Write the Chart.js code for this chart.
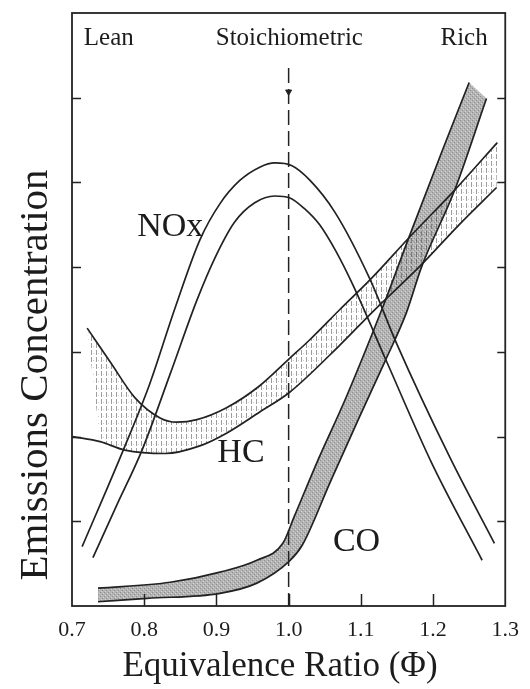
<!DOCTYPE html>
<html>
<head>
<meta charset="utf-8">
<script src="https://cdn.jsdelivr.net/npm/chart.js@4.4.1/dist/chart.umd.min.js"></script>
<style>
  html, body { margin: 0; padding: 0; background: #ffffff; }
  #wrap { width: 530px; height: 689px; position: relative; }
</style>
</head>
<body>
<div id="wrap"><canvas id="chart"></canvas></div>
<script>
// Axis ticks
const xTicks = [0.7, 0.8, 0.9, 1.0, 1.1, 1.2, 1.3];
const yTicks = [1, 2, 3, 4, 5, 6];

// NOx band: two bounding curves (equivalence ratio vs. relative concentration)
const noxUpperPhi  = [0.714, 0.771, 0.808, 0.842, 0.877, 0.905, 0.932, 0.960, 0.981, 1.004, 1.029, 1.064, 1.112, 1.149, 1.223, 1.285];
const noxUpperConc = [0.70, 1.84, 2.63, 3.50, 4.32, 4.75, 5.02, 5.18, 5.23, 5.20, 5.03, 4.65, 3.87, 3.11, 1.76, 0.74];
const noxLowerPhi  = [0.729, 0.762, 0.797, 0.836, 0.873, 0.898, 0.925, 0.953, 0.981, 1.001, 1.022, 1.043, 1.066, 1.089, 1.136, 1.198, 1.268];
const noxLowerConc = [0.57, 1.19, 1.84, 2.74, 3.61, 4.11, 4.53, 4.76, 4.84, 4.82, 4.69, 4.50, 4.18, 3.79, 2.88, 1.69, 0.54];

// HC band
const hcUpperPhi  = [0.721, 0.753, 0.787, 0.822, 0.845, 0.873, 0.914, 0.960, 1.001, 1.029, 1.071, 1.115, 1.167, 1.230, 1.289];
const hcUpperConc = [3.28, 2.88, 2.46, 2.22, 2.17, 2.20, 2.34, 2.60, 2.92, 3.14, 3.50, 3.87, 4.35, 4.91, 5.47];
const hcLowerPhi  = [0.701, 0.739, 0.773, 0.829, 0.877, 0.914, 0.960, 1.001, 1.071, 1.116, 1.184, 1.236, 1.288];
const hcLowerConc = [2.00, 1.94, 1.84, 1.80, 1.89, 2.04, 2.29, 2.52, 3.08, 3.47, 4.03, 4.50, 4.94];

// CO band
const coUpperPhi  = [0.736, 0.836, 0.905, 0.956, 0.992, 1.008, 1.039, 1.080, 1.130, 1.167, 1.213, 1.250];
const coUpperConc = [0.21, 0.28, 0.40, 0.54, 0.74, 1.06, 1.69, 2.47, 3.52, 4.36, 5.38, 6.18];
const coLowerPhi  = [0.736, 0.804, 0.905, 0.956, 1.001, 1.019, 1.057, 1.098, 1.133, 1.163, 1.184, 1.230, 1.274];
const coLowerConc = [0.05, 0.09, 0.15, 0.27, 0.53, 0.72, 1.45, 2.23, 2.88, 3.46, 4.00, 4.91, 5.99];

// Stoichiometric marker line
const stoichPhi = 1.0;
const stoichTop = 6.35;
const stoichArrow = 6.07;

// Text labels
const regionLabels = ['Lean', 'Stoichiometric', 'Rich'];
const regionPhi = [0.751, 1.001, 1.243];
const regionConc = 6.62;
const curveLabels = ['NOx', 'HC', 'CO'];
const curveLabelPhi = [0.836, 0.934, 1.094];
const curveLabelConc = [4.47, 1.81, 0.76];
const xTitle = 'Equivalence Ratio (\u03A6)';
const yTitle = 'Emissions Concentration';

const SERIF = "'Liberation Serif', 'Times New Roman', 'DejaVu Serif', serif";
const INK = '#222222';

const pts = (xs, ys) => xs.map((x, i) => ({ x, y: ys[i] }));

function hatchPattern() {
  const c = document.createElement('canvas');
  c.width = 5; c.height = 7;
  const g = c.getContext('2d');
  g.fillStyle = 'rgba(60,60,60,0.5)';
  g.fillRect(1, 0, 1, 5);
  g.fillStyle = 'rgba(110,110,110,0.35)';
  g.fillRect(3, 3, 1, 1);
  return g.createPattern(c, 'repeat');
}
function stipplePattern() {
  const c = document.createElement('canvas');
  c.width = 4; c.height = 4;
  const g = c.getContext('2d');
  g.fillStyle = '#b4b4b4'; g.fillRect(0, 0, 4, 4);
  g.fillStyle = '#8e8e8e'; g.fillRect(0, 0, 1, 1); g.fillRect(2, 2, 1, 1);
  g.fillStyle = '#d4d4d4'; g.fillRect(1, 3, 1, 1); g.fillRect(3, 1, 1, 1);
  return g.createPattern(c, 'repeat');
}

// shaded bands, each bounded by two of the edge datasets below
const bands = [
  { upper: 'CO upper', lower: 'CO lower', lowerStart: 0, fill: stipplePattern() },
  { upper: 'HC upper', lower: 'HC lower', lowerStart: 1, fill: hatchPattern() }
];

const edge = (label, data, order) => ({
  label, data, order,
  borderColor: INK, borderWidth: 1.7,
  cubicInterpolationMode: 'monotone',
  pointRadius: 0, fill: false
});

const datasets = [
  edge('CO upper', pts(coUpperPhi, coUpperConc), 6),
  edge('CO lower', pts(coLowerPhi, coLowerConc), 6),
  edge('HC upper', pts(hcUpperPhi, hcUpperConc), 5),
  edge('HC lower', pts(hcLowerPhi, hcLowerConc), 5),
  edge('NOx upper', pts(noxUpperPhi, noxUpperConc), 4),
  edge('NOx lower', pts(noxLowerPhi, noxLowerConc), 4),
  { label: 'Stoichiometric', data: [{ x: stoichPhi, y: stoichTop }, { x: stoichPhi, y: 0 }],
    order: 2, borderColor: INK, borderWidth: 1.5, borderDash: [15, 6], pointRadius: 0, fill: false },
  { label: 'Arrow', data: [{ x: stoichPhi, y: stoichArrow }], order: 1, showLine: false,
    pointStyle: 'triangle', pointRotation: 180, pointRadius: 3.5,
    pointBackgroundColor: INK, pointBorderColor: INK, pointBorderWidth: 1 }
];

// fills the area enclosed by an upper and a lower line element
const bandFill = {
  id: 'bandFill',
  beforeDatasetsDraw(chart) {
    const { ctx, chartArea: a } = chart;
    const lineOf = label => {
      const i = chart.data.datasets.findIndex(d => d.label === label);
      const el = chart.getDatasetMeta(i).dataset;
      el.updateControlPoints(a, 'x');
      return el;
    };
    ctx.save();
    ctx.beginPath();
    ctx.rect(a.left, a.top, a.right - a.left, a.bottom - a.top);
    ctx.clip();
    bands.forEach(b => {
      const up = lineOf(b.upper);
      const lo = lineOf(b.lower);
      ctx.beginPath();
      up.pathSegment(ctx, up.segments[0]);
      lo.pathSegment(ctx, lo.segments[0], { move: false, reverse: true, start: b.lowerStart });
      ctx.closePath();
      ctx.fillStyle = b.fill;
      ctx.fill();
    });
    ctx.restore();
  }
};

// frame, inward tick marks and all annotation text
const decorations = {
  id: 'decorations',
  afterDatasetsDraw(chart) {
    const { ctx, chartArea: a, scales: { x, y } } = chart;
    ctx.save();
    ctx.strokeStyle = INK;
    ctx.lineWidth = 1.8;
    ctx.strokeRect(a.left, a.top, a.right - a.left, a.bottom - a.top);
    ctx.lineWidth = 1.5;
    ctx.beginPath();
    xTicks.slice(1, -1).forEach(v => {
      const px = Math.round(x.getPixelForValue(v)) + 0.5;
      ctx.moveTo(px, a.bottom); ctx.lineTo(px, a.bottom - 12);
    });
    yTicks.forEach(v => {
      const py = Math.round(y.getPixelForValue(v)) + 0.5;
      ctx.moveTo(a.left, py); ctx.lineTo(a.left + 9, py);
      ctx.moveTo(a.right, py); ctx.lineTo(a.right - 8, py);
    });
    ctx.stroke();
    ctx.restore();
  },
  afterDraw(chart) {
    const { ctx, scales: { x, y } } = chart;
    ctx.save();
    ctx.fillStyle = '#1c1c1c';
    ctx.textAlign = 'center';
    ctx.textBaseline = 'alphabetic';
    ctx.font = `25px ${SERIF}`;
    regionLabels.forEach((t, i) => {
      ctx.fillText(t, x.getPixelForValue(regionPhi[i]), y.getPixelForValue(regionConc));
    });
    ctx.textBaseline = 'middle';
    ctx.font = `34px ${SERIF}`;
    curveLabels.forEach((t, i) => {
      ctx.fillText(t, x.getPixelForValue(curveLabelPhi[i]), y.getPixelForValue(curveLabelConc[i]));
    });
    ctx.textBaseline = 'alphabetic';
    ctx.font = `35px ${SERIF}`;
    ctx.fillText(xTitle, 280, 676);
    ctx.translate(47, 375);
    ctx.rotate(-Math.PI / 2);
    ctx.font = `41px ${SERIF}`;
    ctx.fillText(yTitle, 0, 0);
    ctx.restore();
  }
};

new Chart(document.getElementById('chart'), {
  type: 'line',
  data: { datasets },
  options: {
    responsive: true,
    maintainAspectRatio: false,
    animation: false,
    events: [],
    layout: { padding: { left: 0, top: 13, right: 24, bottom: 0 } },
    plugins: { legend: { display: false }, tooltip: { enabled: false } },
    scales: {
      x: {
        type: 'linear', min: 0.7, max: 1.3,
        afterBuildTicks: s => { s.ticks = xTicks.map(v => ({ value: v })); },
        afterFit: s => { s.height = 83; },
        ticks: {
          autoSkip: false, maxRotation: 0, minRotation: 0, padding: 11,
          color: '#1c1c1c', font: { family: SERIF, size: 22 },
          callback: v => Number(v).toFixed(1)
        },
        grid: { display: false, drawTicks: false },
        border: { display: false }
      },
      y: {
        type: 'linear', min: 0, max: 7,
        afterBuildTicks: s => { s.ticks = yTicks.map(v => ({ value: v })); },
        afterFit: s => { s.width = 72; },
        ticks: { display: false },
        grid: { display: false, drawTicks: false },
        border: { display: false }
      }
    }
  },
  plugins: [bandFill, decorations]
});
</script>
</body>
</html>
